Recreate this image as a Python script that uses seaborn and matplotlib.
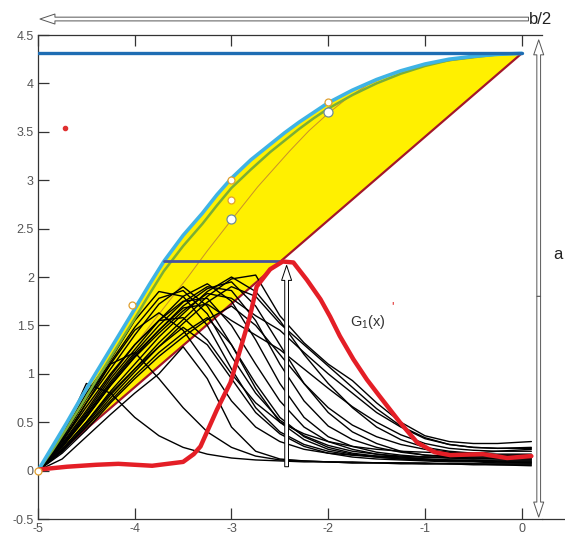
import numpy as np
import pandas as pd
import matplotlib
matplotlib.use("Agg")
import matplotlib.pyplot as plt
from matplotlib.lines import Line2D
import seaborn as sns

# ---------------- data ----------------
x_ticks = [-5, -4, -3, -2, -1, 0]
x_tick_labels = ["-5", "-4", "-3", "-2", "-1", "0"]
y_ticks = [-0.5, 0, 0.5, 1, 1.5, 2, 2.5, 3, 3.5, 4, 4.5]
y_tick_labels = ["-0.5", "0", "0.5", "1", "1.5", "2", "2.5", "3", "3.5", "4", "4.5"]

# upper envelope (cyan)
upper_x = [-5.0, -4.85, -4.7, -4.55, -4.4, -4.2, -4.0, -3.85, -3.7, -3.5, -3.3, -3.15, -3.0,
           -2.8, -2.6, -2.45, -2.3, -2.15, -2.0, -1.75, -1.5, -1.25, -1.0, -0.75, -0.5, -0.25, 0.0]
upper_y = [0.0, 0.25, 0.5, 0.76, 1.01, 1.34, 1.67, 1.92, 2.16, 2.43, 2.66, 2.85, 3.02,
           3.21, 3.37, 3.49, 3.6, 3.7, 3.8, 3.93, 4.04, 4.13, 4.2, 4.25, 4.28, 4.30, 4.31]
# green curve
green_y = [0.0, 0.21, 0.44, 0.68, 0.93, 1.25, 1.57, 1.82, 2.06, 2.32, 2.55, 2.74, 2.92,
           3.11, 3.29, 3.41, 3.53, 3.64, 3.74, 3.88, 4.0, 4.1, 4.18, 4.24, 4.27, 4.30, 4.31]
# thin brown curve
thin_x = [-5.0, -4.7, -4.4, -4.05, -3.7, -3.45, -3.25, -3.0, -2.73, -2.4, -2.2, -2.0,
          -1.8, -1.6, -1.4, -1.2, -1.0, -0.7, -0.4, 0.0]
thin_y = [0.0, 0.39, 0.78, 1.23, 1.68, 2.0, 2.27, 2.59, 2.93, 3.3, 3.51, 3.69,
          3.85, 3.98, 4.07, 4.14, 4.19, 4.24, 4.28, 4.31]
# lower straight line (dark red)
lower_x = [-5.0, 0.0]
lower_y = [0.0, 4.31]
# top horizontal line
top_level = 4.31
# short horizontal line
mid_x = [-3.70, -2.45]
mid_level = 2.17

# markers
orange_pts_x = [-5.0, -4.03, -3.0, -3.0, -2.0]
orange_pts_y = [0.0, 1.71, 3.0, 2.8, 3.81]
white_pts_x = [-3.0, -2.0]
white_pts_y = [2.6, 3.7]
red_dot = (-4.72, 3.54)

# G1(x)' curve (red)
g1_x = [-5.0, -4.7, -4.4, -4.17, -3.82, -3.5, -3.39, -3.32, -3.15, -3.01, -2.91, -2.81,
        -2.74, -2.6, -2.47, -2.36, -2.22, -2.08, -1.98, -1.88, -1.74, -1.6, -1.47, -1.26,
        -1.08, -0.9, -0.74, -0.4, -0.15, 0.1]
g1_y = [0.01, 0.04, 0.06, 0.07, 0.05, 0.09, 0.17, 0.25, 0.63, 0.91, 1.25, 1.59,
        1.90, 2.08, 2.16, 2.15, 1.97, 1.77, 1.59, 1.39, 1.15, 0.94, 0.77, 0.50,
        0.29, 0.19, 0.16, 0.17, 0.13, 0.15]

# black measured curves on a common grid
grid_x = [-5.0, -4.75, -4.5, -4.25, -4.0, -3.75, -3.5, -3.25, -3.0, -2.75, -2.5,
          -2.25, -2.0, -1.75, -1.5, -1.25, -1.0, -0.75, -0.5, -0.25, 0.1]
c01 = [0, 0.35, 0.90, 0.80, 0.55, 0.36, 0.24, 0.17, 0.13, 0.11, 0.10, 0.09, 0.09, 0.08, 0.08, 0.07, 0.07, 0.07, 0.06, 0.06, 0.06]
c02 = [0, 0.30, 0.70, 1.10, 1.22, 0.95, 0.65, 0.40, 0.24, 0.15, 0.11, 0.10, 0.09, 0.09, 0.08, 0.08, 0.08, 0.07, 0.07, 0.07, 0.07]
c03 = [0, 0.12, 0.35, 0.58, 0.80, 1.00, 1.28, 0.95, 0.45, 0.20, 0.12, 0.10, 0.09, 0.08, 0.08, 0.08, 0.07, 0.07, 0.07, 0.06, 0.05]
c04 = [0, 0.35, 0.80, 1.15, 1.55, 1.85, 1.80, 1.50, 1.05, 0.65, 0.40, 0.27, 0.20, 0.16, 0.14, 0.12, 0.11, 0.10, 0.10, 0.09, 0.09]
c05 = [0, 0.30, 0.70, 1.05, 1.40, 1.72, 1.90, 1.70, 1.30, 0.85, 0.50, 0.32, 0.22, 0.17, 0.14, 0.12, 0.11, 0.10, 0.10, 0.09, 0.08]
c06 = [0, 0.28, 0.62, 0.98, 1.30, 1.55, 1.75, 1.78, 1.50, 1.10, 0.72, 0.45, 0.30, 0.22, 0.17, 0.14, 0.12, 0.11, 0.10, 0.10, 0.10]
c07 = [0, 0.27, 0.60, 0.95, 1.25, 1.55, 1.80, 1.93, 1.75, 1.35, 0.90, 0.55, 0.35, 0.25, 0.19, 0.16, 0.14, 0.13, 0.12, 0.12, 0.12]
c08 = [0, 0.25, 0.55, 0.88, 1.18, 1.45, 1.70, 1.88, 1.95, 1.70, 1.30, 0.90, 0.60, 0.40, 0.28, 0.20, 0.16, 0.14, 0.13, 0.13, 0.12]
c09 = [0, 0.22, 0.50, 0.82, 1.10, 1.38, 1.62, 1.85, 2.00, 1.85, 1.55, 1.20, 0.90, 0.65, 0.45, 0.32, 0.24, 0.20, 0.18, 0.17, 0.17]
c10 = [0, 0.20, 0.48, 0.78, 1.05, 1.32, 1.56, 1.80, 1.98, 2.02, 1.60, 1.32, 1.10, 0.93, 0.70, 0.50, 0.36, 0.30, 0.28, 0.28, 0.30]
c11 = [0, 0.24, 0.55, 0.88, 1.17, 1.42, 1.65, 1.83, 1.78, 1.60, 1.45, 1.22, 1.00, 0.80, 0.60, 0.45, 0.33, 0.27, 0.24, 0.23, 0.23]
c12 = [0, 0.25, 0.57, 0.90, 1.20, 1.45, 1.68, 1.72, 1.55, 1.40, 1.25, 1.05, 0.85, 0.66, 0.50, 0.37, 0.28, 0.23, 0.21, 0.20, 0.20]
c13 = [0, 0.18, 0.42, 0.70, 0.95, 1.18, 1.38, 1.56, 1.70, 1.50, 1.20, 0.90, 0.65, 0.47, 0.35, 0.27, 0.22, 0.19, 0.17, 0.16, 0.16]
c14 = [0, 0.30, 0.66, 1.00, 1.30, 1.55, 1.58, 1.35, 1.00, 0.70, 0.50, 0.38, 0.30, 0.25, 0.22, 0.20, 0.19, 0.18, 0.18, 0.20, 0.22]
c15 = [0, 0.33, 0.74, 1.10, 1.45, 1.63, 1.45, 1.10, 0.72, 0.45, 0.30, 0.22, 0.18, 0.16, 0.15, 0.14, 0.14, 0.14, 0.15, 0.15, 0.16]
c16 = [0, 0.20, 0.45, 0.72, 0.98, 1.22, 1.42, 1.58, 1.30, 0.90, 0.55, 0.35, 0.24, 0.18, 0.15, 0.13, 0.12, 0.11, 0.11, 0.10, 0.10]
c17 = [0, 0.22, 0.50, 0.80, 1.05, 1.28, 1.48, 1.30, 0.95, 0.60, 0.38, 0.25, 0.18, 0.14, 0.12, 0.11, 0.10, 0.09, 0.09, 0.08, 0.08]
c18 = [0, 0.20, 0.46, 0.75, 1.02, 1.28, 1.52, 1.74, 1.90, 1.80, 1.52, 1.30, 1.08, 0.86, 0.64, 0.46, 0.34, 0.27, 0.24, 0.23, 0.24]
c19 = [0, 0.32, 0.76, 1.12, 1.48, 1.78, 1.86, 1.62, 1.18, 0.80, 0.52, 0.36, 0.26, 0.20, 0.17, 0.15, 0.14, 0.13, 0.13, 0.12, 0.12]
c20 = [0, 0.26, 0.58, 0.92, 1.22, 1.50, 1.74, 1.90, 1.86, 1.55, 1.10, 0.72, 0.46, 0.32, 0.24, 0.19, 0.16, 0.15, 0.14, 0.14, 0.14]
black_curves = [c01, c02, c03, c04, c05, c06, c07, c08, c09, c10,
                c11, c12, c13, c14, c15, c16, c17, c18, c19, c20]

# ---------------- style ----------------
sns.set_theme(style="white")
plt.rcParams["font.family"] = ["Liberation Sans", "DejaVu Sans"]
plt.rcParams["mathtext.fontset"] = "custom"
plt.rcParams["mathtext.rm"] = "Liberation Sans"

fig = plt.figure(figsize=(5.65, 5.34), dpi=100)
ax = fig.add_axes([38 / 565, 15 / 534, (542 - 38) / 565, (519 - 35) / 534])
ax.set_xlim(-5, 0.21)
ax.set_ylim(-0.5, 4.5)

# yellow band: upper envelope closed by the lower straight line
ax.fill(upper_x, upper_y, color="#FFF000", lw=0, zorder=1)
ax.plot(lower_x, lower_y, color="#A3172A", lw=1.6, zorder=2)
ax.plot(thin_x, thin_y, color="#C8902A", lw=0.7, zorder=2)

# black curves
rows = []
for i, cv in enumerate(black_curves):
    for xv, yv in zip(grid_x, cv):
        rows.append({"curve": i, "x": xv, "y": yv})
df = pd.DataFrame(rows)
sns.lineplot(data=df, x="x", y="y", units="curve", estimator=None, color="black",
             lw=1.0, sort=False, ax=ax, legend=False, zorder=3)

ax.plot(upper_x, green_y, color="#7CAE35", lw=1.8, zorder=4)
ax.plot(upper_x, upper_y, color="#3FB3E5", lw=2.6, zorder=4)
ax.plot([-5, 0], [top_level, top_level], color="#1E6DB3", lw=2.4, zorder=5)
ax.plot(mid_x, [mid_level, mid_level], color="#4652A0", lw=2.0, zorder=5)

# G1 curve
sns.lineplot(x=g1_x, y=g1_y, color="#E41E26", lw=3.2, sort=False, ax=ax, zorder=6)

# markers
ax.plot(orange_pts_x, orange_pts_y, ls="none", marker="o", ms=5, mfc="white",
        mec="#E0A030", mew=0.9, zorder=7, clip_on=False)
ax.plot(white_pts_x, white_pts_y, ls="none", marker="o", ms=6.5, mfc="white",
        mec="#6C8C9C", mew=0.9, zorder=7)
ax.plot([red_dot[0]], [red_dot[1]], ls="none", marker="o", ms=3, color="#E03030", zorder=7)

# vertical arrow under peak
ax.annotate("", xy=(-2.43, 2.12), xytext=(-2.43, 0.04),
            arrowprops=dict(arrowstyle="simple,head_width=0.8,head_length=1.2,tail_width=0.3",
                            fc="white", ec="black", lw=0.7, shrinkA=0, shrinkB=0,
                            mutation_scale=9), zorder=8)

# top arrow b/2
ax.annotate("", xy=(-4.98, 4.665), xytext=(0.07, 4.665), annotation_clip=False,
            arrowprops=dict(arrowstyle="simple,head_width=0.8,head_length=1.2,tail_width=0.3",
                            fc="white", ec="#555555", lw=0.7, shrinkA=0, shrinkB=0,
                            mutation_scale=9))
ax.text(0.075, 4.665, "b/2", fontsize=12, color="#222222", ha="left", va="center",
        clip_on=False)

# right double arrow a
for yend in (4.45, -0.48):
    ax.annotate("", xy=(0.176, yend), xytext=(0.176, 1.8), annotation_clip=False,
                arrowprops=dict(arrowstyle="simple,head_width=0.8,head_length=1.2,tail_width=0.3",
                                fc="white", ec="#555555", lw=0.7, shrinkA=0, shrinkB=0,
                                mutation_scale=9))
ax.text(0.33, 2.23, "a", fontsize=12, color="#222222", ha="left", va="center", clip_on=False)

# label
ax.text(-1.77, 1.54, "G$_1$(x)", fontsize=10.5, color="#333333", ha="left", va="center", zorder=9)
ax.text(-1.35, 1.69, "'", fontsize=9, color="#E02020", ha="left", va="center", zorder=9)

# axes styling
ax.set_xlabel("")
ax.set_ylabel("")
ax.set_xticks(x_ticks)
ax.set_xticklabels(x_tick_labels)
ax.set_yticks(y_ticks)
ax.set_yticklabels(y_tick_labels)
ax.tick_params(axis="x", which="both", direction="in", length=8, width=0.9, top=True,
               bottom=True, labelsize=9, labelcolor="#555555", color="#333333", pad=3)
ax.tick_params(axis="y", direction="in", length=8, width=0.9, left=True, right=False,
               labelsize=9, labelcolor="#555555", color="#333333", pad=3)
for side in ("left", "top", "bottom"):
    ax.spines[side].set_color("#333333")
    ax.spines[side].set_linewidth(0.9)
ax.spines["right"].set_visible(False)
fig.add_artist(Line2D([542 / 565, 1.0], [15 / 534, 15 / 534], color="#333333", lw=0.9))

fig.savefig("out.png", dpi=100)
